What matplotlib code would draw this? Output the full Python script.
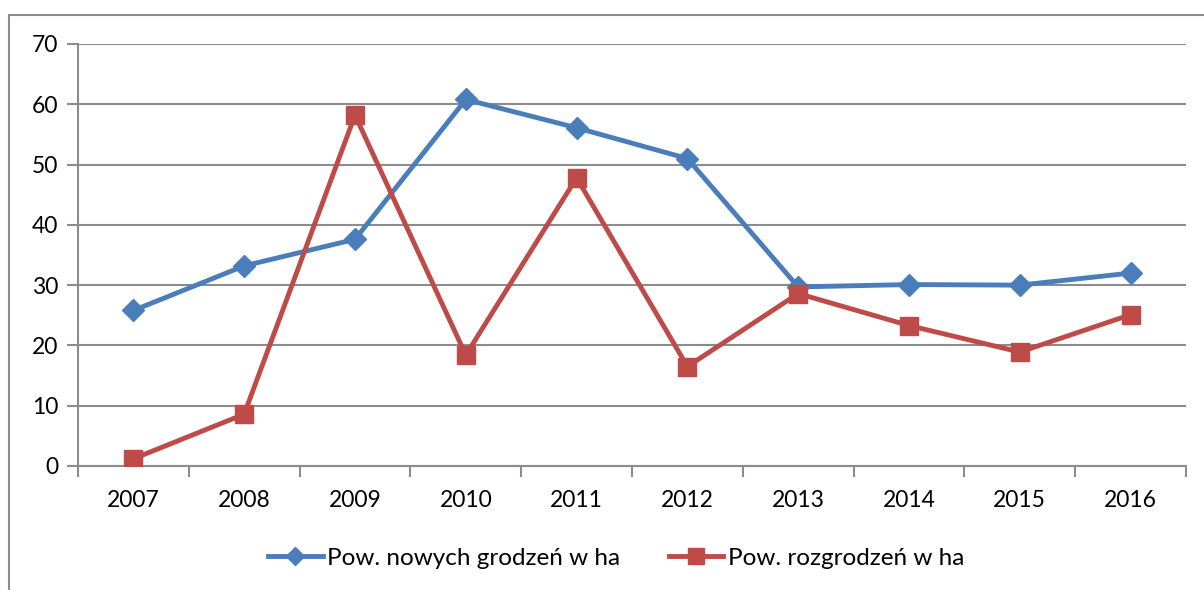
import matplotlib
matplotlib.use("Agg")
import matplotlib.pyplot as plt
from matplotlib.patches import Rectangle

years = ["2007", "2008", "2009", "2010", "2011", "2012", "2013", "2014", "2015", "2016"]
nowe = [25.8, 33.2, 37.6, 60.8, 56.1, 51.0, 29.7, 30.1, 30.0, 32.0]
rozgrodzenia = [1.2, 8.6, 58.2, 18.4, 47.8, 16.5, 28.6, 23.3, 18.9, 25.1]
labels = ["Pow. nowych grodzeń w ha", "Pow. rozgrodzeń w ha"]

plt.rcParams['font.family'] = ['Lato', 'DejaVu Sans']

fig = plt.figure(figsize=(12.04, 5.90), dpi=100)
ax = fig.add_axes([78/1204, 1 - 466/590, (1186-78)/1204, (466-44)/590])

fig.patches.append(Rectangle((9/1204, -0.1), 1.2, 1 - 15/590 + 0.1, transform=fig.transFigure,
                             fill=False, edgecolor='#8c8c8c', linewidth=1.5, clip_on=False))

x = list(range(len(years)))
ax.plot(x, nowe, color='#4a7ebb', lw=3.5, marker='D', markersize=11, label=labels[0], zorder=3)
ax.plot(x, rozgrodzenia, color='#be4b48', lw=3.5, marker='s', markersize=13.5, label=labels[1], zorder=3)

ax.set_xlim(-0.5, len(years) - 0.5)
ax.set_ylim(0, 70)
ax.set_yticks(range(0, 71, 10))
ax.set_xticks([i - 0.5 for i in range(len(years) + 1)])
ax.set_xticklabels([])
ax.set_xticks(x, minor=True)
ax.set_xticklabels(years, minor=True)
ax.tick_params(axis='x', which='minor', length=0, pad=17, labelsize=16.5)
ax.tick_params(axis='x', which='major', length=8, width=1.5, color='#8c8c8c', direction='out')
ax.tick_params(axis='y', length=8, width=1.5, color='#8c8c8c', labelsize=16.5, pad=6)
ax.grid(axis='y', color='#8c8c8c', lw=1.5)
ax.set_axisbelow(True)
for s in ['top', 'right']:
    ax.spines[s].set_visible(False)
for s in ['left', 'bottom']:
    ax.spines[s].set_color('#8c8c8c')
    ax.spines[s].set_linewidth(1.5)

ax.legend(loc='center', bbox_to_anchor=(616/1204, (590-558)/590), bbox_transform=fig.transFigure,
          ncol=2, frameon=False, fontsize=17.5, handlelength=2.25, handletextpad=0.17,
          columnspacing=2.0, markerscale=0.85, borderpad=0)

fig.savefig("out.png", dpi=100)
